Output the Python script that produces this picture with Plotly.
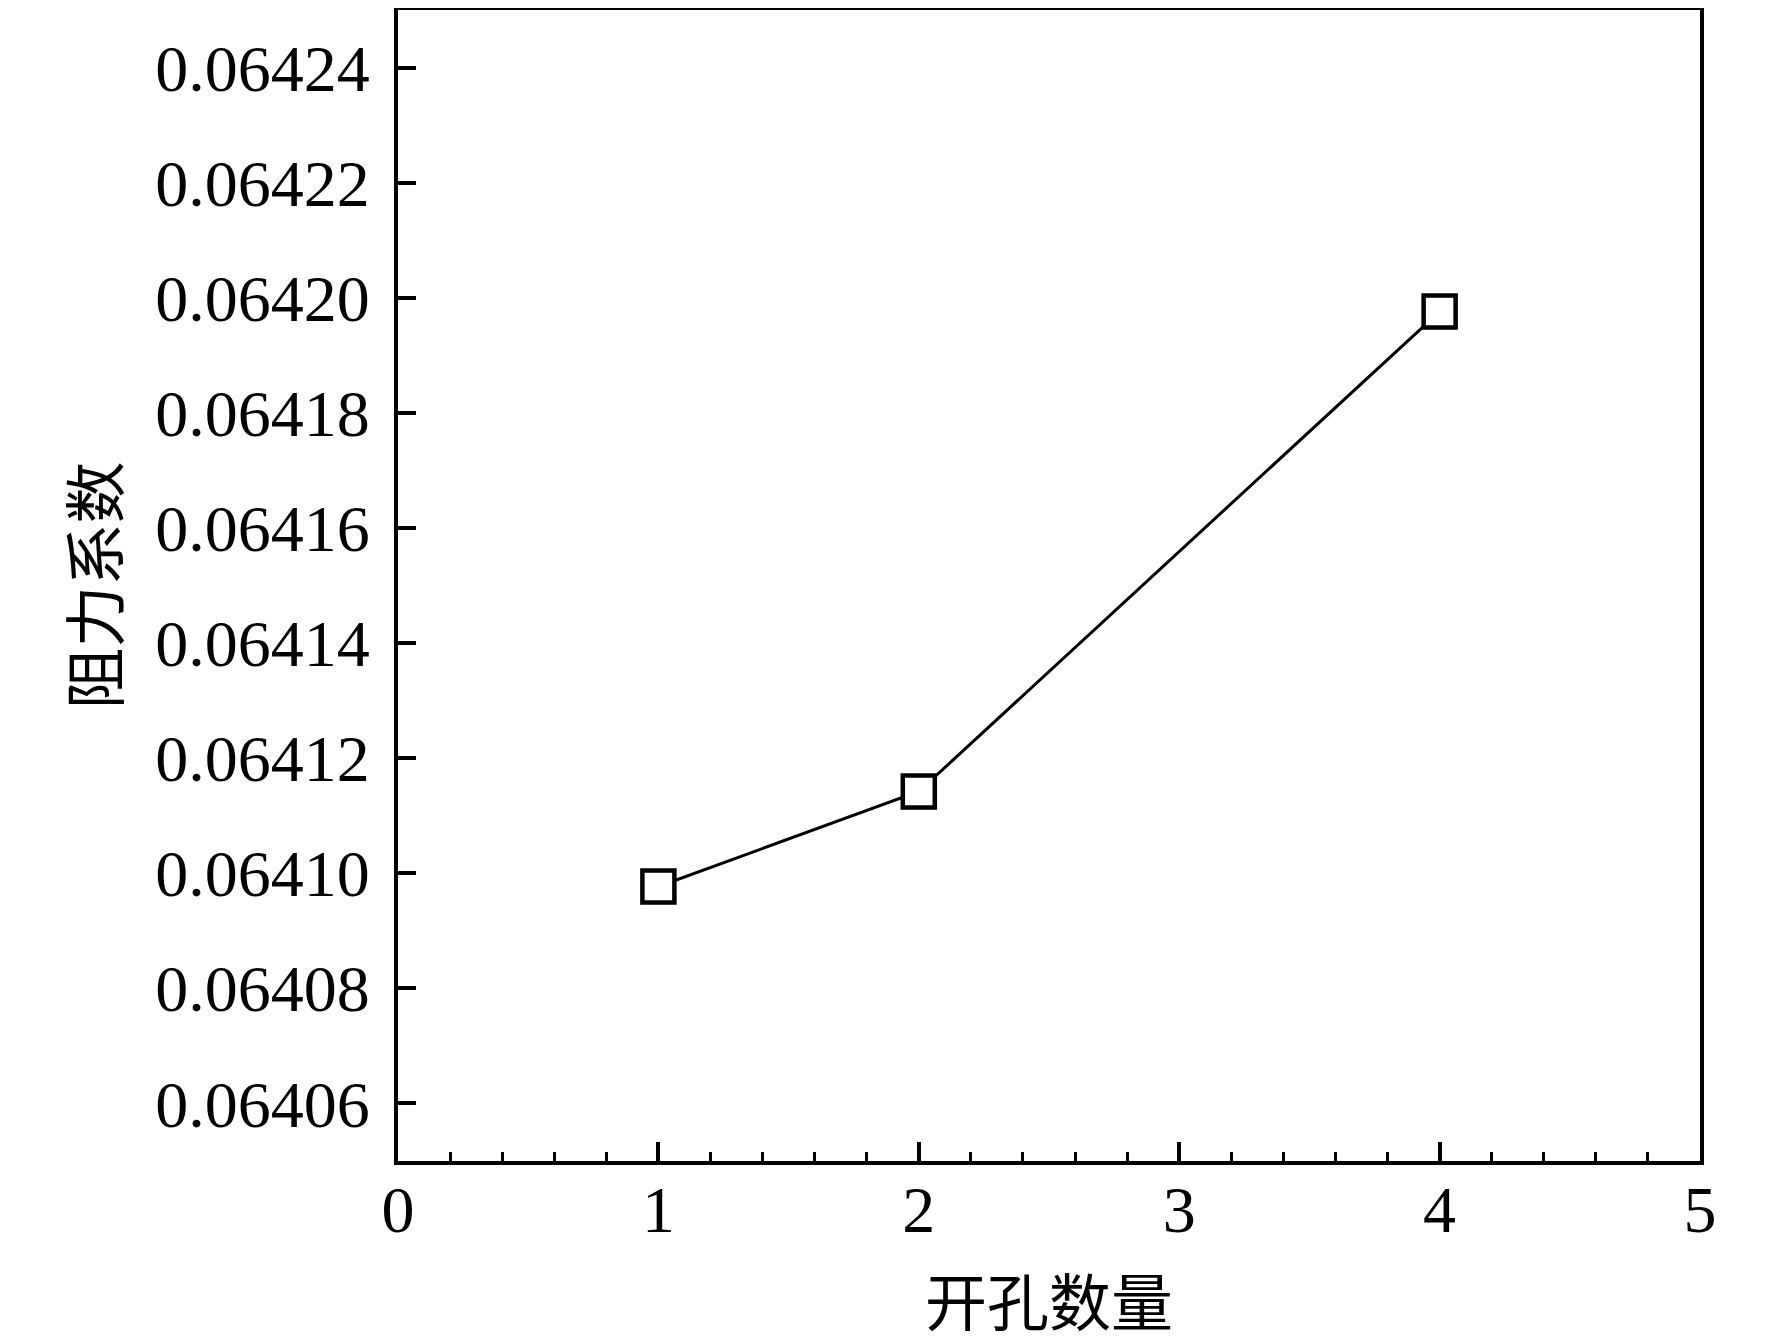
import plotly.graph_objects as go

# 开孔数量 vs 阻力系数
kaikong = [1, 2, 4]
zuli = [0.0640977, 0.0641142, 0.0641976]

y_ticks = [0.06406, 0.06408, 0.06410, 0.06412, 0.06414,
           0.06416, 0.06418, 0.06420, 0.06422, 0.06424]
x_ticks = [0, 1, 2, 3, 4, 5]

fuente = "Liberation Serif, Times New Roman, Noto Sans CJK SC"

fig = go.Figure()
fig.add_trace(go.Scatter(
    x=kaikong,
    y=zuli,
    mode="lines+markers",
    line=dict(color="black", width=3),
    marker=dict(symbol="square", size=32, color="white",
                line=dict(color="black", width=4.5)),
    showlegend=False
))

fig.update_layout(
    width=1772,
    height=1339,
    paper_bgcolor="white",
    plot_bgcolor="white",
    margin=dict(l=390, r=80, t=2, b=186),
    font=dict(family=fuente, size=66, color="black")
)

fig.update_xaxes(
    range=[0, 5],
    tickvals=x_ticks,
    ticktext=[str(v) for v in x_ticks],
    ticks="inside",
    ticklen=19,
    tickwidth=4,
    tickcolor="black",
    ticklabelstandoff=-12,
    minor=dict(dtick=0.2, ticks="inside", ticklen=9, tickwidth=3, tickcolor="black"),
    showline=True,
    linecolor="black",
    linewidth=4,
    mirror=True,
    showgrid=False,
    zeroline=False,
    automargin=False,
    title=dict(text="开孔数量", font=dict(size=62), standoff=38)
)

fig.update_yaxes(
    range=[0.06405, 0.06425],
    tickvals=y_ticks,
    ticktext=[f"{v:.5f}" for v in y_ticks],
    ticks="inside",
    ticklen=18,
    tickwidth=4,
    tickcolor="black",
    ticklabelstandoff=11,
    showline=True,
    linecolor="black",
    linewidth=4,
    mirror=True,
    showgrid=False,
    zeroline=False,
    automargin=False,
    title=dict(text="阻力系数", font=dict(size=62), standoff=17)
)

fig.write_html("out.html")
